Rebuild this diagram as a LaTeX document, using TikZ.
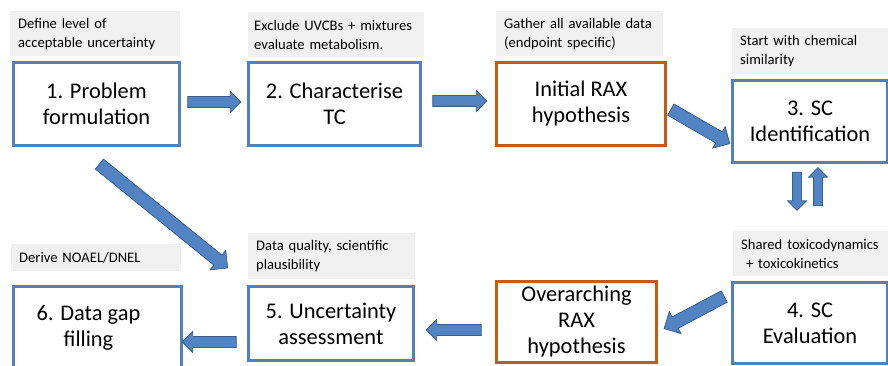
\documentclass[tikz,border=0pt]{standalone}
\usepackage{fontspec}
\setmainfont{Carlito}
\usepackage{tikz}
\usetikzlibrary{shapes.arrows}

\definecolor{boxblue}{HTML}{4F81BD}
\definecolor{raxorange}{HTML}{C55A11}
\definecolor{arrowfill}{HTML}{5283C2}
\definecolor{arrowline}{HTML}{3A5F8C}
\definecolor{notegrey}{HTML}{F0F0F0}

\tikzstyle{mainbox}    = [draw=boxblue, line width=3pt, fill=white, align=center, inner sep=0pt, font=\fontsize{22.4}{26}\selectfont]
\tikzstyle{raxbox}     = [mainbox, draw=raxorange]
\tikzstyle{note}       = [fill=notegrey, anchor=north west, align=left, inner xsep=8pt, inner ysep=0pt, font=\fontsize{14.6}{19}\selectfont]
\tikzstyle{blockarrow} = [single arrow, draw=arrowline, fill=arrowfill, line width=0.8pt, inner xsep=0pt, inner ysep=5pt, single arrow head extend=5pt]

\begin{document}
\begin{tikzpicture}[x=1pt,y=-1pt]
        \clip (0,0) rectangle (888,366);

        % grey notes above the steps
        \node[note, text width=154pt, minimum height=45pt] (n1) at (10,11) {Define level of\\acceptable uncertainty};
        \node[note, text width=164pt, minimum height=45pt, inner xsep=6pt] (n2) at (248,12) {Exclude UVCBs + mixtures\\evaluate metabolism.};
        \node[note, text width=151pt, minimum height=45pt] (n3) at (496,11) {Gather all available data\\(endpoint specific)};
        \node[note, text width=144pt, minimum height=46pt] (n4) at (732,28) {Start with chemical\\similarity};
        \node[note, text width=144pt, minimum height=45pt] (n5) at (733,231) {Shared toxicodynamics\\~+ toxicokinetics};
        \node[note, text width=151pt, minimum height=46pt] (n6) at (248,233) {Data quality, scientific\\plausibility};
        \node[note, text width=154pt, minimum height=27pt] (n7) at (11,244) {Derive NOAEL/DNEL};

        % top row
        \node[mainbox, minimum width=166pt, minimum height=83pt] (prob) at (96.5,104) {1. Problem\\formulation};
        \node[mainbox, minimum width=172pt, minimum height=83pt] (char) at (334.5,104) {2. Characterise\\TC};
        \node[raxbox,  minimum width=169pt, minimum height=83pt] (rax1) at (581,104) {Initial RAX\\hypothesis};
        \node[mainbox, minimum width=155pt, minimum height=82pt] (ident) at (810,121.5) {3. SC\\Identification};

        % bottom row
        \node[mainbox, minimum width=155pt, minimum height=81pt] (eval) at (810,323) {4. SC\\Evaluation};
        \node[raxbox,  minimum width=160pt, minimum height=81pt] (rax2) at (576.5,322) {Overarching\\RAX\\hypothesis};
        \node[mainbox, minimum width=165pt, minimum height=74pt] (unc) at (331,323.5) {5. Uncertainty\\assessment};
        \node[mainbox, minimum width=168pt, minimum height=83pt] (gap) at (97.5,328) {6. Data gap\hspace*{18pt}\\filling\hspace*{18pt}};

        % block arrows
        \node[blockarrow, minimum height=53pt] (a1) at (211.5,102) {};
        \node[blockarrow, minimum height=54pt] (a2) at (457,101) {};
        \node[blockarrow, minimum height=68pt, inner ysep=6pt, single arrow head extend=6pt, rotate=-30] (a3) at (697.5,125) {};
        \node[blockarrow, minimum height=38pt, inner ysep=4pt, rotate=-90] (a4) at (797,189) {};
        \node[blockarrow, minimum height=38pt, inner ysep=4pt, rotate=90] (a5) at (818,189) {};
        \node[blockarrow, minimum height=68pt, inner ysep=6pt, single arrow head extend=6pt, rotate=208] (a6) at (697,311) {};
        \node[blockarrow, minimum height=55pt, rotate=180] (a7) at (456.5,330) {};
        \node[blockarrow, minimum height=54pt, rotate=180] (a8) at (212,342) {};
        \node[blockarrow, minimum height=165pt, inner ysep=6pt, single arrow head extend=6pt, rotate=-39] (a9) at (161,214) {};
    \end{tikzpicture}
\end{document}
